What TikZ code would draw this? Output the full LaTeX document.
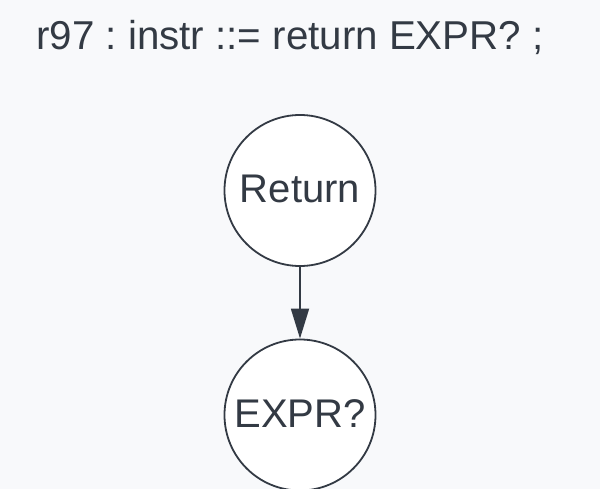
\documentclass[tikz,border=0pt]{standalone}
\usepackage{fontspec}
\setmainfont{Liberation Sans}
\usetikzlibrary{arrows.meta}
\definecolor{bg}{HTML}{F8F9FB}
\definecolor{ink}{HTML}{333A44}
\tikzset{
  statenode/.style={circle, draw=ink, line width=1.8pt, fill=white, minimum size=151pt, inner sep=0pt, text=ink, font=\fontsize{40}{48}\selectfont},
  conn/.style={draw=ink, line width=1.8pt, -{Triangle[length=30pt,width=18pt]}},
  titletext/.style={text=ink, font=\fontsize{40.3}{48}\selectfont\frenchspacing, inner sep=0pt, anchor=base}
}
\newcommand{\lift}[1]{\raisebox{3.5pt}{#1}}
\begin{document}
\begin{tikzpicture}[x=1pt,y=-1pt]
\fill[bg] (0,0) rectangle (600,489);
\useasboundingbox (0,0) rectangle (600,489);
\node[titletext] (title) at (290,50) {r97 : instr ::= return EXPR? ;};
\node[statenode] (ret) at (300,190.5) {\lift{Return}};
\node[statenode] (expr) at (300,415) {\lift{EXPR?}};
\draw[conn] (ret) -- (expr);
\end{tikzpicture}
\end{document}
